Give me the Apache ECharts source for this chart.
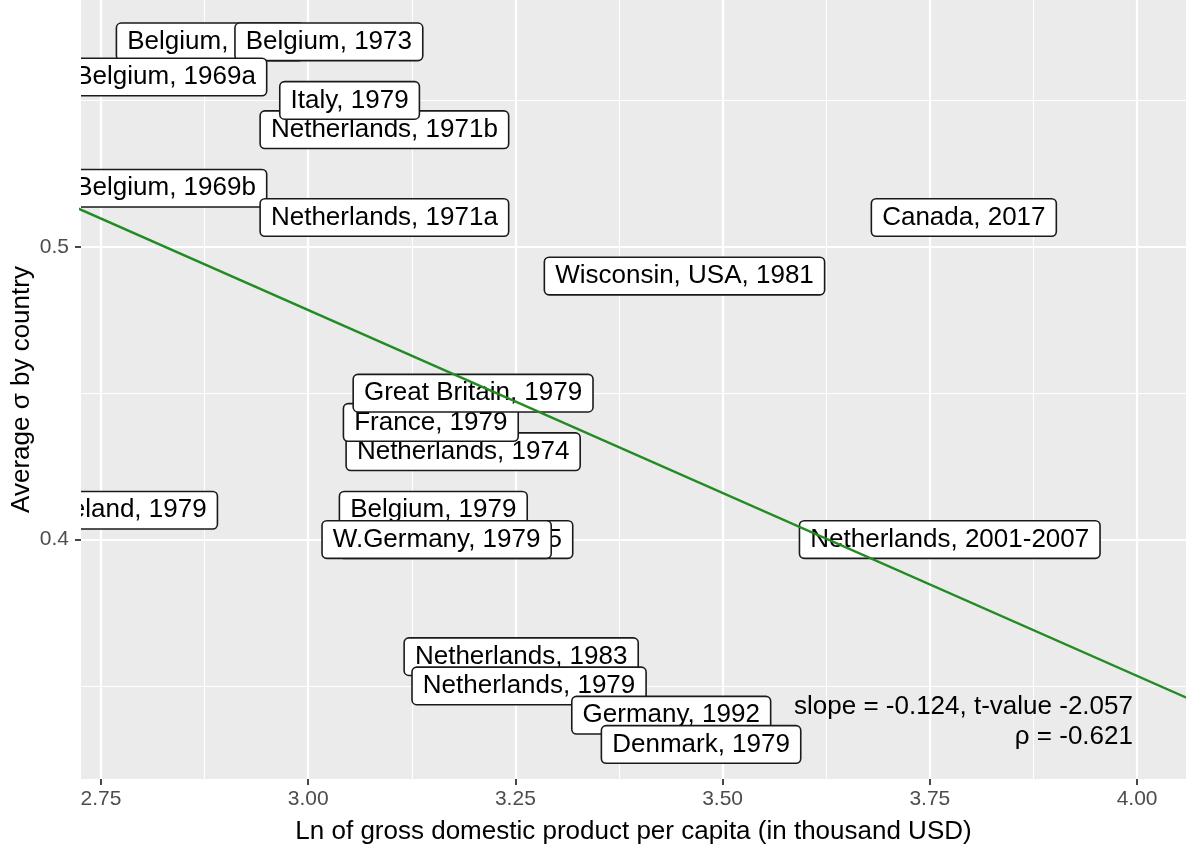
<!DOCTYPE html>
<html>
<head>
<meta charset="utf-8">
<script src="https://cdn.jsdelivr.net/npm/echarts@6/dist/echarts.min.js"></script>
<style>
  html, body { margin: 0; padding: 0; background: #fff; }
  #sigma-gdp-chart { width: 1186px; height: 844px; }
</style>
</head>
<body>
<div id="sigma-gdp-chart"></div>
<script>
// labels in drawing order (later ones sit on top)
const labelNames = [
  'Belgium, 1971', 'Belgium, 1973', 'Belgium, 1969a', 'Netherlands, 1971b', 'Italy, 1979',
  'Belgium, 1969b', 'Netherlands, 1971a', 'Canada, 2017', 'Wisconsin, USA, 1981',
  'Netherlands, 1974', 'France, 1979', 'Great Britain, 1979', 'Ireland, 1979', 'Belgium, 1979',
  'Netherlands, 1975', 'W.Germany, 1979', 'Netherlands, 2001-2007', 'Netherlands, 1983',
  'Netherlands, 1979', 'Germany, 1992', 'Denmark, 1979'
]
const lnGdp = [
  2.882, 3.025, 2.828, 3.092, 3.050,
  2.828, 3.092, 3.791, 3.454,
  3.187, 3.148, 3.199, 2.786, 3.151,
  3.178, 3.155, 3.774, 3.257,
  3.2665, 3.438, 3.474
]
const avgSigma = [
  0.570, 0.570, 0.558, 0.540, 0.550,
  0.520, 0.510, 0.510, 0.490,
  0.430, 0.440, 0.450, 0.410, 0.410,
  0.400, 0.400, 0.400, 0.360,
  0.350, 0.340, 0.330
]

// fitted line end points
const fitX = [2.72, 4.06]
const fitY = [0.5134, 0.3459]

// annotation
const annotText = 'slope = -0.124, t-value -2.057\nρ = -0.621'
const annotX = 3.995
const annotY = 0.3376

// axes
const xMin = 2.726
const xMax = 4.059
const yMin = 0.3182
const yMax = 0.5843
const xTicks = [2.75, 3.00, 3.25, 3.50, 3.75, 4.00]
const xTickLabels = ['2.75', '3.00', '3.25', '3.50', '3.75', '4.00']
const xMinor = [2.875, 3.125, 3.375, 3.625, 3.875]
const yTicks = [0.4, 0.5]
const yTickLabels = ['0.4', '0.5']
const yMinor = [0.35, 0.45, 0.55]

const FONT = '"Liberation Sans", Arial, Helvetica, sans-serif'

const myChart = echarts.init(document.getElementById('sigma-gdp-chart'))

const labelData = labelNames.map(function (n, i) { return [lnGdp[i], avgSigma[i]] })

const option = {
  animation: false,
  grid: {
    left: 81,
    right: 0,
    top: 0,
    bottom: 65,
    outerBoundsMode: 'none',
    containLabel: false,
    show: true,
    backgroundColor: '#EBEBEB',
    borderWidth: 0
  },
  xAxis: [
    {
      type: 'value',
      min: xMin,
      max: xMax,
      name: 'Ln of gross domestic product per capita (in thousand USD)',
      nameLocation: 'middle',
      nameGap: 40,
      nameTextStyle: { fontSize: 26, color: '#000', fontFamily: FONT },
      axisLine: { show: false },
      axisTick: {
        show: true,
        customValues: xTicks,
        length: 6,
        lineStyle: { color: '#333333', width: 1.8 }
      },
      axisLabel: {
        customValues: xTicks,
        margin: 10,
        fontSize: 21,
        color: '#4D4D4D',
        fontFamily: FONT,
        formatter: function (v) { return xTickLabels[xTicks.indexOf(v)] || v.toFixed(2) }
      },
      splitLine: { show: true, lineStyle: { color: '#FFFFFF', width: 2.2 } }
    },
    {
      type: 'value',
      min: xMin,
      max: xMax,
      position: 'bottom',
      axisLine: { show: false },
      axisTick: { show: false, customValues: xMinor },
      axisLabel: { show: false },
      splitLine: { show: true, lineStyle: { color: '#FFFFFF', width: 1.1 } }
    }
  ],
  yAxis: [
    {
      type: 'value',
      min: yMin,
      max: yMax,
      name: 'Average σ by country',
      nameLocation: 'middle',
      nameGap: 46,
      nameMoveOverlap: false,
      nameTextStyle: { fontSize: 26, color: '#000', fontFamily: FONT },
      axisLine: { show: false },
      axisTick: {
        show: true,
        customValues: yTicks,
        length: 6,
        lineStyle: { color: '#333333', width: 1.8 }
      },
      axisLabel: {
        customValues: yTicks,
        margin: 12,
        fontSize: 21,
        color: '#4D4D4D',
        fontFamily: FONT,
        formatter: function (v) { return yTickLabels[yTicks.indexOf(v)] || String(v) }
      },
      splitLine: { show: true, lineStyle: { color: '#FFFFFF', width: 2.2 } }
    },
    {
      type: 'value',
      min: yMin,
      max: yMax,
      position: 'left',
      axisLine: { show: false },
      axisTick: { show: false, customValues: yMinor },
      axisLabel: { show: false },
      splitLine: { show: true, lineStyle: { color: '#FFFFFF', width: 1.1 } }
    }
  ],
  series: [
    {
      name: 'labels',
      type: 'custom',
      clip: true,
      z: 2,
      data: labelData,
      renderItem: function (params, api) {
        const p = api.coord([api.value(0), api.value(1)])
        return {
          type: 'text',
          x: p[0],
          y: p[1],
          style: {
            text: labelNames[params.dataIndex],
            fontSize: 26,
            fontFamily: FONT,
            fill: '#000',
            align: 'center',
            verticalAlign: 'middle',
            lineHeight: 26,
            backgroundColor: '#FFFFFF',
            borderColor: '#1A1A1A',
            borderWidth: 1.6,
            borderRadius: 4,
            padding: [5, 10]
          }
        }
      }
    },
    {
      name: 'fit',
      type: 'line',
      z: 3,
      symbol: 'none',
      clip: true,
      data: fitX.map(function (x, i) { return [x, fitY[i]] }),
      lineStyle: { color: '#228B22', width: 2.3 }
    },
    {
      name: 'annotation',
      type: 'custom',
      clip: true,
      z: 4,
      data: [[annotX, annotY]],
      renderItem: function (params, api) {
        const p = api.coord([api.value(0), api.value(1)])
        return {
          type: 'text',
          x: p[0],
          y: p[1],
          style: {
            text: annotText,
            fontSize: 26,
            fontFamily: FONT,
            fill: '#000',
            align: 'right',
            verticalAlign: 'middle',
            lineHeight: 30
          }
        }
      }
    }
  ]
}

myChart.setOption(option)
</script>
</body>
</html>
